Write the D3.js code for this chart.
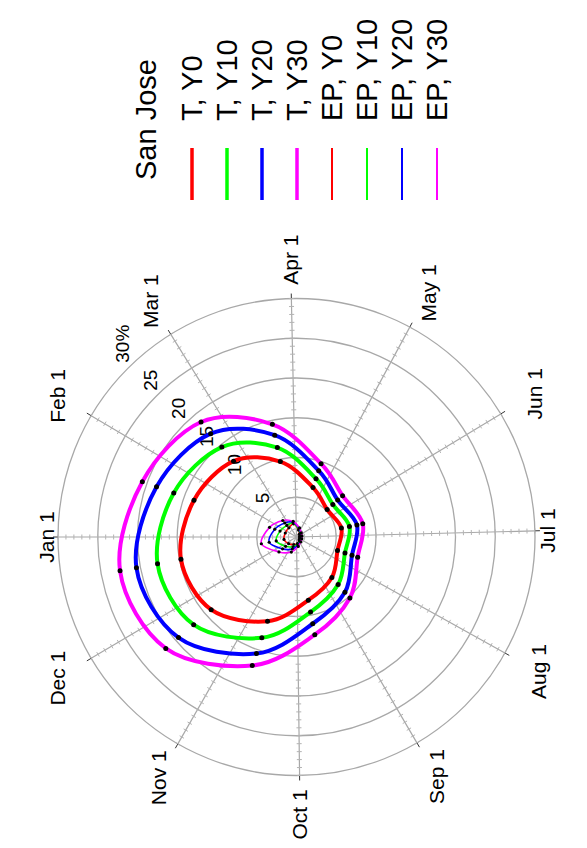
<!DOCTYPE html>
<html>
<head>
<meta charset="utf-8">
<script src="https://cdn.jsdelivr.net/npm/d3@7"></script>
<style>
  body { margin: 0; background: #fff; }
  svg text { font-family: "Liberation Sans", Arial, sans-serif; }
</style>
</head>
<body>
<svg id="chart" width="587" height="848"></svg>
<script>
// month spokes (day of year, 0 based) and their labels
var monthDays = [0, 31, 59, 90, 120, 151, 181, 212, 243, 273, 304, 334];
var monthLabels = ["Jan 1", "Feb 1", "Mar 1", "Apr 1", "May 1", "Jun 1",
                   "Jul 1", "Aug 1", "Sep 1", "Oct 1", "Nov 1", "Dec 1"];
// values are plotted on the 21st of each month
var pointDays = monthDays.map(function(d){ return d + 20; });

var ringValues = [5, 10, 15, 20, 25, 30];
var ringLabels = ["5", "10", "15", "20", "25", "30%"];

// percent values, Jan 21 ... Dec 21
var tY0  = [13.7, 12.4, 9.7, 6.55, 5.18, 5.76, 5.43, 6.76, 8.08, 11.2, 14.1, 14.8];
var tY10 = [16.4, 14.7, 11.5, 7.73, 6.14, 6.79, 6.42, 7.95, 9.6, 13.4, 17.0, 17.8];
var tY20 = [18.7, 16.9, 13.1, 8.8, 6.96, 7.75, 7.35, 9.25, 11.1, 15.5, 19.5, 20.5];
var tY30 = [20.6, 18.8, 14.5, 9.73, 7.79, 8.5, 8.1, 10.2, 12.5, 17.1, 21.6, 22.6];
var epY0  = [1.5, 1.5, 1.7, 0.9, 0.5, 0.4, 0.4, 0.5, 0.8, 1.0, 1.3, 1.6];
var epY10 = [2.2, 1.9, 1.8, 1.0, 0.6, 0.5, 0.5, 0.6, 0.9, 1.3, 1.8, 2.6];
var epY20 = [2.9, 2.3, 1.9, 1.1, 0.7, 0.6, 0.6, 0.7, 1.0, 1.6, 2.3, 3.5];
var epY30 = [3.6, 2.7, 2.0, 1.2, 0.8, 0.7, 0.7, 0.8, 1.2, 2.0, 2.9, 4.5];

var seriesNames = ["T, Y0", "T, Y10", "T, Y20", "T, Y30", "EP, Y0", "EP, Y10", "EP, Y20", "EP, Y30"];
var seriesValues = [tY0, tY10, tY20, tY30, epY0, epY10, epY20, epY30];
var seriesColors = ["#ff0000", "#00ff00", "#0000ff", "#ff00ff", "#ff0000", "#00ff00", "#0000ff", "#ff00ff"];
var legendTitle = "San Jose";

// the whole plot is drawn landscape and turned a quarter turn
var svg = d3.select("#chart");
var root = svg.append("g").attr("transform", "translate(0,848) rotate(-90)");

var cx = 311, cy = 296.5, R = 238.5;
var r = d3.scaleLinear().domain([0, 30]).range([0, R]);
var ang = d3.scaleLinear().domain([0, 365]).range([0, 2 * Math.PI]);

var plot = root.append("g").attr("transform", "translate(" + cx + "," + cy + ")");

function px(a, rad){ return rad * Math.sin(a); }
function py(a, rad){ return -rad * Math.cos(a); }

// rings
plot.selectAll("circle.ring")
  .data(ringValues)
  .enter().append("circle")
    .attr("class", "ring")
    .attr("r", function(d){ return r(d); })
    .attr("fill", "none")
    .attr("stroke", "#a8a8a8")
    .attr("stroke-width", 1.3);

// spokes with minor ticks
var minor = d3.range(1, 31);
monthDays.forEach(function(d){
  var a = ang(d);
  plot.append("line")
    .attr("x1", 0).attr("y1", 0)
    .attr("x2", px(a, R)).attr("y2", py(a, R))
    .attr("stroke", "#a8a8a8").attr("stroke-width", 1.2);
  plot.append("line")
    .attr("x1", px(a, R)).attr("y1", py(a, R))
    .attr("x2", px(a, R + 5)).attr("y2", py(a, R + 5))
    .attr("stroke", "#333").attr("stroke-width", 1);
  plot.selectAll(null)
    .data(minor)
    .enter().append("line")
      .attr("x1", function(v){ return px(a, r(v)) + 2.5 * Math.cos(a); })
      .attr("y1", function(v){ return py(a, r(v)) + 2.5 * Math.sin(a); })
      .attr("x2", function(v){ return px(a, r(v)) - 2.5 * Math.cos(a); })
      .attr("y2", function(v){ return py(a, r(v)) - 2.5 * Math.sin(a); })
      .attr("stroke", "#b4b4b4").attr("stroke-width", 1);
});

// month labels
function labelR(d){
  var a = ang(d);
  return R + 11 + 28 * Math.min(1, Math.abs(Math.sin(a)) / 0.5);
}
plot.selectAll("text.month")
  .data(monthDays)
  .enter().append("text")
    .attr("class", "month")
    .attr("x", function(d){ return px(ang(d), labelR(d)); })
    .attr("y", function(d){ return py(ang(d), labelR(d)); })
    .attr("dy", "0.35em")
    .attr("text-anchor", "middle")
    .attr("font-size", 21)
    .text(function(d, i){ return monthLabels[i]; });

// ring labels
var la = Math.PI / 4;
plot.selectAll("text.rlab")
  .data(ringValues)
  .enter().append("text")
    .attr("class", "rlab")
    .attr("x", function(d){ return px(la, r(d) + 8); })
    .attr("y", function(d){ return py(la, r(d) + 8); })
    .attr("dy", "0.35em")
    .attr("font-size", 19)
    .text(function(d, i){ return ringLabels[i]; });

// series
var line = d3.lineRadial()
  .angle(function(d, i){ return ang(pointDays[i]); })
  .radius(function(d){ return r(d); })
  .curve(d3.curveCardinalClosed.tension(0));

seriesValues.forEach(function(vals, s){
  var thick = s < 4;
  plot.append("path")
    .datum(vals)
    .attr("d", line)
    .attr("fill", "none")
    .attr("stroke", seriesColors[s])
    .attr("stroke-width", thick ? 4 : 1.6);
  plot.selectAll(null)
    .data(vals)
    .enter().append("circle")
      .attr("cx", function(d, i){ return px(ang(pointDays[i]), r(d)); })
      .attr("cy", function(d, i){ return py(ang(pointDays[i]), r(d)); })
      .attr("r", thick ? 2.5 : 1.6)
      .attr("fill", "#000");
});

// legend
var legend = root.append("g");
legend.append("text")
  .attr("x", 668).attr("y", 146)
  .attr("dy", "0.35em")
  .attr("font-size", 29)
  .text(legendTitle);

var ly = d3.scaleLinear().domain([0, 1]).range([192, 227]);
var items = legend.selectAll("g.item")
  .data(seriesNames)
  .enter().append("g")
    .attr("class", "item")
    .attr("transform", function(d, i){ return "translate(0," + ly(i) + ")"; });
items.append("line")
  .attr("x1", 648).attr("x2", 700)
  .attr("y1", 0).attr("y2", 0)
  .attr("stroke", function(d, i){ return seriesColors[i]; })
  .attr("stroke-width", function(d, i){ return i < 4 ? 3.5 : 2; });
items.append("text")
  .attr("x", 727).attr("y", 0)
  .attr("dy", "0.35em")
  .attr("font-size", 29)
  .text(function(d){ return d; });
</script>
</body>
</html>
